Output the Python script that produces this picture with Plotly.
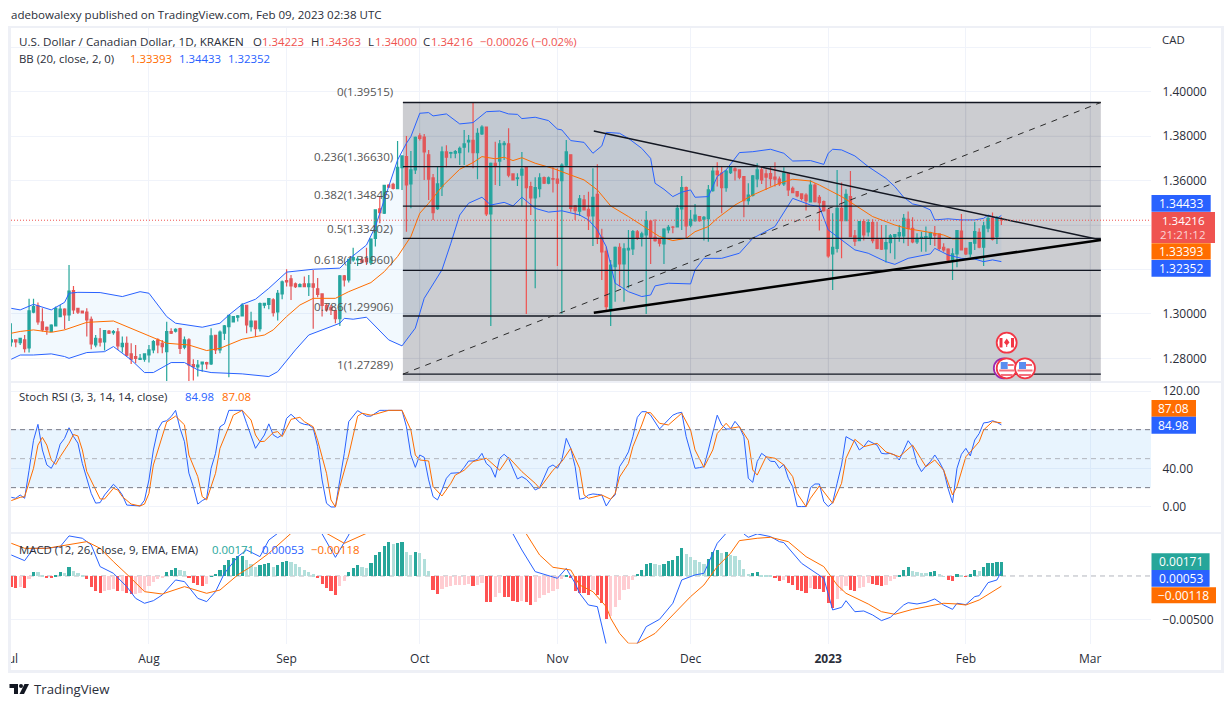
import plotly.graph_objects as go

# daily bars, index 0 = 1 Jul 2022
opens = [1.2874,1.2883,1.2871,1.2883,1.2847,1.3008,1.3036,1.2964,1.2939,1.2921,1.2946,1.2988,1.3022,1.2995,1.3105,1.3025,1.3013,1.3008,1.2976,1.2860,
1.2888,1.2874,1.2923,1.2916,1.2919,1.2853,1.2868,1.2820,1.2808,1.2795,1.2796,1.2815,1.2838,1.2883,1.2868,1.2830,1.2920,1.2922,1.2934,1.2850,
1.2883,1.2772,1.2762,1.2775,1.2781,1.2775,1.2904,1.2838,1.2913,1.2943,1.2964,1.2985,1.2991,1.3039,1.2943,1.2968,1.2934,1.3039,1.3043,1.3063,
1.3009,1.3090,1.3150,1.3158,1.3135,1.3123,1.3135,1.3123,1.3135,1.3113,1.3090,1.3038,1.3030,1.3015,1.2979,1.3171,1.3153,1.3243,1.3243,1.3243,
1.3250,1.3231,1.3340,1.3473,1.3453,1.3580,1.3583,1.3564,1.3658,1.3708,1.3585,1.3648,1.3801,1.3796,1.3716,1.3612,1.3474,1.3573,1.3729,1.3723,
1.3723,1.3726,1.3750,1.3774,1.3781,1.3726,1.3810,1.3841,1.3450,1.3678,1.3688,1.3762,1.3765,1.3630,1.3609,1.3625,1.3663,1.3573,1.3522,1.3564,
1.3613,1.3588,1.3609,1.3607,1.3600,1.3670,1.3716,1.3486,1.3462,1.3513,1.3471,1.3441,1.3538,1.3345,1.3282,1.3018,1.3213,1.3300,1.3225,1.3288,
1.3292,1.3369,1.3347,1.3355,1.3418,1.3345,1.3338,1.3315,1.3378,1.3391,1.3391,1.3472,1.3568,1.3399,1.3420,1.3438,1.3426,1.3429,1.3555,1.3643,
1.3634,1.3568,1.3636,1.3653,1.3648,1.3618,1.3510,1.3533,1.3608,1.3648,1.3630,1.3631,1.3616,1.3607,1.3585,1.3630,1.3565,1.3550,1.3540,1.3535,
1.3504,1.3580,1.3525,1.3505,1.3468,1.3270,1.3295,1.3475,1.3420,1.3528,1.3351,1.3330,1.3415,1.3369,1.3411,1.3336,1.3336,1.3292,1.3321,1.3348,
1.3351,1.3351,1.3426,1.3385,1.3324,1.3342,1.3342,1.3340,1.3360,1.3360,1.3300,1.3292,1.3243,1.3270,1.3373,1.3295,1.3270,1.3318,1.3367,1.3300,
1.3386,1.3430,1.3348,1.34223]
highs = [1.2958,1.2883,1.2890,1.2905,1.3068,1.3068,1.3051,1.3025,1.2943,1.2953,1.3033,1.3040,1.3025,1.3220,1.3126,1.3025,1.3013,1.3025,1.2988,1.2905,
1.2936,1.2928,1.2928,1.2928,1.2936,1.2898,1.2898,1.2868,1.2860,1.2820,1.2823,1.2860,1.2883,1.2890,1.2883,1.2965,1.2935,1.2935,1.2938,1.2898,
1.2890,1.2796,1.2793,1.2785,1.2785,1.2935,1.2905,1.2925,1.2950,1.2995,1.2991,1.2995,1.3048,1.3040,1.3010,1.2968,1.3051,1.3048,1.3072,1.3070,
1.3108,1.3150,1.3201,1.3175,1.3141,1.3138,1.3168,1.3175,1.3198,1.3161,1.3093,1.3048,1.3040,1.3015,1.3175,1.3175,1.3247,1.3298,1.3258,1.3258,
1.3298,1.3340,1.3471,1.3531,1.3581,1.3583,1.3590,1.3778,1.3711,1.3801,1.3733,1.3798,1.3813,1.3810,1.3738,1.3630,1.3666,1.3753,1.3759,1.3730,
1.3738,1.3753,1.3828,1.3805,1.3952,1.3835,1.3849,1.3841,1.3681,1.3775,1.3783,1.3778,1.3835,1.3633,1.3633,1.3729,1.3666,1.3595,1.3615,1.3633,
1.3618,1.3618,1.3660,1.3655,1.3678,1.3783,1.3718,1.3490,1.3535,1.3535,1.3550,1.3655,1.3673,1.3383,1.3303,1.3243,1.3303,1.3318,1.3318,1.3378,
1.3378,1.3378,1.3370,1.3463,1.3423,1.3426,1.3339,1.3385,1.3400,1.3396,1.3490,1.3621,1.3573,1.3468,1.3495,1.3441,1.3441,1.3580,1.3660,1.3683,
1.3666,1.3648,1.3666,1.3660,1.3651,1.3621,1.3588,1.3625,1.3678,1.3666,1.3651,1.3663,1.3683,1.3618,1.3660,1.3630,1.3573,1.3550,1.3543,1.3543,
1.3603,1.3588,1.3535,1.3510,1.3471,1.3453,1.3648,1.3591,1.3561,1.3643,1.3378,1.3418,1.3426,1.3426,1.3426,1.3415,1.3400,1.3400,1.3360,1.3360,
1.3400,1.3450,1.3461,1.3435,1.3363,1.3370,1.3393,1.3370,1.3396,1.3363,1.3318,1.3295,1.3295,1.3378,1.3450,1.3295,1.3321,1.3415,1.3385,1.3415,
1.3445,1.3456,1.3441,1.34363]
lows = [1.2853,1.2850,1.2860,1.2826,1.2826,1.3003,1.2951,1.2921,1.2906,1.2921,1.2943,1.2985,1.2931,1.2968,1.3000,1.3000,1.3003,1.2898,1.2841,1.2850,
1.2853,1.2835,1.2910,1.2906,1.2838,1.2826,1.2808,1.2775,1.2778,1.2793,1.2785,1.2781,1.2823,1.2823,1.2823,1.2696,1.2910,1.2916,1.2820,1.2841,
1.2698,1.2700,1.2718,1.2740,1.2751,1.2770,1.2820,1.2823,1.2883,1.2715,1.2961,1.2966,1.2991,1.2913,1.2921,1.2898,1.2921,1.3025,1.3021,1.2988,
1.2970,1.3066,1.3123,1.3063,1.3117,1.3120,1.3120,1.3081,1.2933,1.3075,1.2988,1.3010,1.2995,1.2958,1.2946,1.3123,1.3141,1.3235,1.3216,1.3228,
1.3220,1.3220,1.3303,1.3408,1.3450,1.3570,1.3560,1.3561,1.3558,1.3370,1.3475,1.3630,1.3780,1.3603,1.3513,1.3423,1.3468,1.3531,1.3660,1.3700,
1.3700,1.3670,1.3670,1.3726,1.3655,1.3606,1.3805,1.3441,1.2946,1.3580,1.3576,1.3693,1.3615,1.3600,1.3576,1.3483,1.3000,1.3445,1.3115,1.3525,
1.3585,1.3583,1.3546,1.3216,1.3000,1.3666,1.3460,1.3423,1.3441,1.3465,1.3378,1.3306,1.3315,1.3153,1.3018,1.2946,1.3055,1.3123,1.3055,1.3115,
1.3265,1.3333,1.3303,1.3000,1.3225,1.3325,1.3303,1.3225,1.3363,1.3363,1.3390,1.3378,1.3340,1.3390,1.3415,1.3415,1.3330,1.3325,1.3550,1.3573,
1.3453,1.3550,1.3630,1.3600,1.3606,1.3435,1.3491,1.3528,1.3570,1.3585,1.3558,1.3573,1.3573,1.3576,1.3576,1.3531,1.3543,1.3525,1.3510,1.3465,
1.3501,1.3501,1.3375,1.3460,1.3253,1.3108,1.3276,1.3250,1.3417,1.3345,1.3306,1.3327,1.3330,1.3348,1.3318,1.3291,1.3288,1.3231,1.3273,1.3246,
1.3325,1.3318,1.3306,1.3318,1.3315,1.3280,1.3280,1.3310,1.3306,1.3285,1.3280,1.3235,1.3153,1.3210,1.3285,1.3265,1.3255,1.3288,1.3295,1.3216,
1.3368,1.3330,1.3315,1.34000]
closes = [1.2883,1.2874,1.2890,1.2844,1.3014,1.3033,1.2964,1.2928,1.2928,1.2950,1.3025,1.3022,1.2995,1.3103,1.3018,1.3008,1.3005,1.2973,1.2865,1.2890,
1.2873,1.2925,1.2913,1.2920,1.2856,1.2868,1.2814,1.2796,1.2800,1.2800,1.2820,1.2838,1.2875,1.2860,1.2853,1.2920,1.2913,1.2931,1.2845,1.2883,
1.2770,1.2763,1.2770,1.2783,1.2775,1.2901,1.2838,1.2918,1.2946,1.2993,1.2988,1.2991,1.3040,1.2951,1.2968,1.2934,1.3046,1.3048,1.3069,1.3006,
1.3093,1.3144,1.3144,1.3126,1.3123,1.3132,1.3123,1.3135,1.3120,1.3088,1.3038,1.3018,1.3018,1.2979,1.3171,1.3153,1.3246,1.3253,1.3247,1.3233,
1.3235,1.3337,1.3468,1.3456,1.3578,1.3570,1.3565,1.3660,1.3711,1.3580,1.3648,1.3795,1.3790,1.3729,1.3606,1.3456,1.3585,1.3729,1.3705,1.3726,
1.3730,1.3745,1.3765,1.3781,1.3726,1.3813,1.3841,1.3450,1.3678,1.3666,1.3765,1.3768,1.3625,1.3603,1.3612,1.3652,1.3568,1.3522,1.3568,1.3612,
1.3588,1.3612,1.3606,1.3588,1.3670,1.3729,1.3475,1.3465,1.3518,1.3468,1.3441,1.3525,1.3345,1.3279,1.3033,1.3220,1.3300,1.3225,1.3293,1.3295,
1.3370,1.3340,1.3360,1.3420,1.3345,1.3330,1.3318,1.3382,1.3390,1.3390,1.3475,1.3568,1.3396,1.3426,1.3445,1.3420,1.3435,1.3558,1.3643,1.3627,
1.3568,1.3643,1.3660,1.3645,1.3615,1.3510,1.3535,1.3621,1.3648,1.3603,1.3616,1.3609,1.3606,1.3585,1.3634,1.3558,1.3546,1.3531,1.3520,1.3510,
1.3580,1.3505,1.3501,1.3465,1.3261,1.3300,1.3475,1.3420,1.3538,1.3348,1.3327,1.3415,1.3355,1.3411,1.3330,1.3295,1.3291,1.3321,1.3351,1.3357,
1.3366,1.3430,1.3385,1.3324,1.3340,1.3345,1.3348,1.3366,1.3354,1.3295,1.3288,1.3243,1.3270,1.3375,1.3288,1.3270,1.3321,1.3370,1.3300,1.3396,
1.3430,1.3336,1.3430,1.34216]
bars = list(range(len(opens)))

# Bollinger bands, vertices
bb_upper_x = [0,2,5,9,12,13,15,20,25,29,31,33,35,37,43,47,49,52,55,58,62,68,74,76,80,82,85,87,89,90,92,94,95,98,101,104,107,110,112,114,115,118,121,123,124,126,129,131,133,134,137,139,142,144,145,147,149,151,153,154,157,159,161,164,167,171,174,176,180,183,184,185,187,190,193,197,199,201,203,205,207,208,211,214,217,219,220,222,223]
bb_upper = [1.3025,1.3018,1.3043,1.3018,1.3052,1.3093,1.3097,1.3096,1.3078,1.3100,1.3093,1.3040,1.2988,1.2958,1.2940,1.2958,1.2995,1.3043,1.3066,1.3115,1.3188,1.3201,1.3206,1.3246,1.3310,1.3393,1.3573,1.3693,1.3768,1.3798,1.3903,1.3906,1.3891,1.3900,1.3855,1.3861,1.3910,1.3913,1.3900,1.3898,1.3879,1.3885,1.3870,1.3832,1.3828,1.3780,1.3772,1.3723,1.3756,1.3817,1.3813,1.3790,1.3745,1.3700,1.3588,1.3561,1.3528,1.3548,1.3558,1.3525,1.3528,1.3618,1.3648,1.3726,1.3730,1.3741,1.3723,1.3688,1.3690,1.3673,1.3723,1.3741,1.3738,1.3711,1.3663,1.3610,1.3573,1.3525,1.3495,1.3486,1.3468,1.3423,1.3428,1.3423,1.3423,1.3430,1.3445,1.3430,1.34433]
bb_mid_x = [0,2,5,9,12,17,23,27,35,40,44,47,52,57,59,62,65,68,73,76,81,84,87,88,90,92,94,97,101,104,106,109,111,113,115,118,122,126,129,132,135,139,143,146,149,152,154,157,159,163,167,170,173,176,180,182,185,187,190,194,199,202,206,210,212,217,223]
bb_mid = [1.2913,1.2921,1.2928,1.2917,1.2928,1.2962,1.2968,1.2935,1.2868,1.2860,1.2835,1.2845,1.2886,1.2905,1.2928,1.2988,1.3040,1.3070,1.3070,1.3100,1.3141,1.3190,1.3258,1.3288,1.3348,1.3453,1.3498,1.3573,1.3651,1.3681,1.3708,1.3698,1.3705,1.3690,1.3703,1.3678,1.3655,1.3625,1.3603,1.3558,1.3486,1.3438,1.3386,1.3348,1.3330,1.3340,1.3370,1.3393,1.3430,1.3490,1.3535,1.3561,1.3588,1.3606,1.3598,1.3580,1.3550,1.3528,1.3490,1.3438,1.3400,1.3383,1.3370,1.3355,1.3338,1.3338,1.33393]
bb_lower_x = [0,2,5,9,12,13,17,21,23,27,30,32,36,39,42,45,52,58,60,64,67,74,75,77,80,85,88,91,93,97,99,101,103,106,108,111,113,115,118,121,124,128,130,132,134,136,139,142,144,145,148,153,154,156,160,164,167,172,176,180,182,184,186,190,193,197,199,202,207,208,211,214,217,219,221,223]
bb_lower = [1.2796,1.2815,1.2815,1.2820,1.2808,1.2800,1.2826,1.2830,1.2853,1.2793,1.2736,1.2736,1.2781,1.2781,1.2748,1.2736,1.2730,1.2718,1.2740,1.2838,1.2905,1.2958,1.2980,1.2976,1.2985,1.2883,1.2856,1.2936,1.3070,1.3198,1.3318,1.3445,1.3498,1.3525,1.3490,1.3502,1.3486,1.3525,1.3475,1.3458,1.3464,1.3445,1.3423,1.3378,1.3303,1.3138,1.3100,1.3078,1.3085,1.3126,1.3138,1.3135,1.3198,1.3250,1.3250,1.3273,1.3340,1.3393,1.3520,1.3490,1.3483,1.3378,1.3348,1.3288,1.3273,1.3235,1.3223,1.3250,1.3270,1.3295,1.3265,1.3250,1.3247,1.3235,1.3243,1.32352]

# Stoch RSI
stoch_k = [10,9,12.4,9,38,69,85.5,59,43.5,40,48.6,65,71,82,73,66,45,30,14,4,4.5,12.4,17.6,23.5,19,12.4,2,1.8,1,1,7,28,59,80,88,89.3,93.5,100,81.4,67.6,
35,21,3,6.6,9,40,55.5,83,86,100,100,100,100,86.6,74.5,60.7,67.6,74.5,86,74.5,71.7,74.5,91.7,95.9,91.7,87.3,85.5,84.9,81.4,62.4,28,3.8,0,0,28,55.5,88.3,93.5,99.7,97,
94,94,97,100,100,100,100,100,100,83,53.8,41,53.8,51.4,28,10.7,7.3,17.6,29.7,34.9,35.5,35.5,41,47.6,47.6,49.3,55.5,45,41,30.7,50.4,54.5,50.4,40,29,31.4,28.6,23.8,17.6,20,
31.4,41,43.5,40,48.6,71,60.7,41.7,8,9,12.4,13.5,13,12.4,1,8,12.4,41.7,48.6,57,72.8,92.8,98.6,98.6,95,88,80.7,85.5,90.7,95,97,98,72.8,55.5,40,40.7,41.7,59,76,95,
84.9,80.7,80.7,88.6,83,72.8,29.7,25.5,47,55.5,52,47.3,47,40,44,29.7,21,0.4,0.4,0.4,20,23.8,23.8,5.5,0.4,4.5,24.5,43.5,72.8,70,67.6,59,62.4,68.6,65.9,64,55.5,54.9,55.5,53.8,
48.6,59,68.6,62.4,45,36.6,42.4,46.9,53.8,47,38,19,4.5,40,54.5,60.7,52.8,69.3,76,87,87.6,89.3,87.6,84.98]
stoch_d_x = [0,2,3,5,6,7,8,9,10,11,13,14,15,16,17,19,20,21,23,24,25,27,29,30,31,32,34,35,37,39,40,42,43,44,46,47,49,50,52,54,55,56,57,59,60,61,63,65,66,68,69,71,72,73,74,76,78,79,81,82,85,88,90,91,92,94,95,97,99,100,102,104,107,110,112,115,118,119,122,124,126,128,129,130,133,135,136,137,139,140,142,143,144,146,148,150,151,153,154,156,158,159,161,162,164,166,167,168,170,172,174,176,177,179,180,182,184,185,187,188,190,192,195,197,200,203,206,208,210,212,213,215,216,218,219,221,223]
stoch_d = [6.6,10,10.7,40,64,72,64,48.6,44,52,66,75,73.5,59,36.6,17.6,8.3,8.3,19.3,17.6,10.7,3,1,3,14,43.5,74.5,88,94,85,53.8,31.4,10.7,7.3,34.9,60.7,83,95,100,90,74.5,67.6,68,77,78,72.8,90.7,92.8,88.3,83,69,34.9,7.3,0,21,53.8,94,97,95,96,100,100,79.7,53.8,48.6,47.6,21,11.4,24.5,33,38,47,50.4,38,51.4,36.6,24.5,19.3,38,47,60.7,40,12.4,9,12.4,8,14,31,45,62.4,84.9,97.6,97.6,86.6,84.9,93.5,97,79.7,59,41,59,76,86.6,81.4,83,69,38.3,33,52,50.4,43.5,31.4,14,0.4,9,21.7,9,3.8,24.5,50.4,70,62.4,65.9,57,52,64,41.7,48.6,38,12.4,21,52,57,67.6,79.7,88.3,87.08]

# MACD
macd_hist = [-.00123,-.00131,-.00123,-.00135,-.00031,.0005,.00046,.00019,-.00008,-.00019,.00015,.00046,.00035,.00108,.00065,.00038,.00019,-.00031,-.00127,-.00173,
-.00192,-.00173,-.00154,-.00146,-.00173,-.00162,-.00192,-.00204,-.002,-.00192,-.00173,-.00115,-.00058,-.00031,-.00012,.0005,.00077,.001,.00069,.00058,
-.00008,-.00077,-.00104,-.00108,-.00085,.00004,.00031,.00077,.00127,.00185,.00212,.00231,.00242,.00185,.00146,.00108,.00135,.00142,.00154,.00115,
.00131,.00162,.00173,.00162,.00146,.00115,.00077,.00046,.00023,-.00012,-.00085,-.00135,-.00173,-.00215,-.00108,-.00054,.00046,.00096,.00127,.00108,
.00096,.00154,.0025,.00288,.00346,.00392,.00373,.00385,.00392,.00288,.0025,.00277,.00269,.002,.00058,-.00154,-.002,-.00146,-.00123,-.00108,
-.00104,-.001,-.00096,-.00092,-.00108,-.00096,-.00077,-.00296,-.003,-.00231,-.00192,-.00238,-.00242,-.00288,-.00296,-.00288,-.003,-.00327,-.003,-.0025,
-.00219,-.00192,-.00173,-.00146,-.00031,.00019,-.00008,-.00162,-.00192,-.00196,-.00212,-.00154,-.00212,-.00308,-.00492,-.00454,-.00354,-.00269,-.00154,-.00146,
-.00038,.00031,.00077,.00146,.0015,.00142,.00135,.00146,.00173,.00185,.00231,.00327,.00258,.00219,.00192,.00165,.00146,.002,.00281,.00308,
.00269,.00281,.0025,.00231,.00192,.00085,.00031,.00038,.0005,.00019,.00015,.00008,-.00012,-.0005,-.00038,-.00077,-.00104,-.00154,-.00165,-.00185,
-.00135,-.00142,-.00146,-.00181,-.00308,-.00365,-.00262,-.00173,-.00108,-.00154,-.00173,-.00135,-.00123,-.00077,-.00092,-.00096,-.00115,-.00096,-.0005,-.00031,
.00019,.00077,.00115,.00058,.00046,.00042,.00038,.00054,.00058,.00031,.00004,-.00038,-.0005,.00023,.00012,-.00004,.00023,.00069,.00058,.00108,
.00154,.00158,.00165,.00171]
macd_x = [0,3,5,8,11,13,16,18,20,23,26,28,30,32,34,37,39,42,44,46,48,51,53,56,58,60,62,66,69,70,73,76,77,82,87,92,102,107,111,113,115,118,120,123,125,127,128,130,132,133,134,135,137,139,141,143,146,149,151,154,156,159,161,163,165,166,168,171,173,174,178,182,183,185,187,188,190,192,194,196,198,201,202,204,206,208,210,212,213,215,217,218,220,222,223]
macd_line = [.00242,.00177,.00319,.00319,.00338,.00462,.00435,.00358,.00108,.00031,-.00123,-.00258,-.00315,-.00285,-.00219,-.00046,-.00065,-.00258,-.00296,-.00181,.00031,.00223,.003,.00223,.00415,.00492,.00646,.00838,.00646,.00485,.00215,.00473,.00608,.01108,.01377,.01415,.01108,.00838,.00646,.00485,.003,.0005,.00019,-.00027,.00088,-.00085,-.002,-.00335,-.00354,-.00585,-.00777,-.01008,-.01085,-.00931,-.00777,-.00585,-.005,-.00315,-.00046,.00012,.00031,.00377,.00485,.00608,.00485,.00446,.00485,.00454,.00396,.00385,.00146,.00012,-.00027,-.00392,-.00362,-.00285,-.00412,-.00404,-.0045,-.00515,-.00477,-.00335,-.00308,-.00323,-.00304,-.00265,-.00335,-.00385,-.00315,-.00331,-.00238,-.00227,-.00077,-.00046,.00053]
signal_x = [0,3,8,13,17,20,23,27,30,34,39,44,47,51,54,58,63,68,71,75,80,87,96,104,113,116,119,122,126,128,131,134,135,137,139,141,145,149,153,156,159,162,164,168,171,175,179,183,186,188,193,196,199,203,207,210,213,215,218,223]
signal_line = [.00377,.00319,.00319,.00358,.00396,.00319,.00165,-.00027,-.00181,-.00208,-.00123,-.002,-.00162,.00012,.00108,.00262,.00492,.00646,.00492,.00377,.00492,.00915,.01146,.00915,.00646,.00485,.00242,.001,.00069,-.00104,-.00181,-.00354,-.00488,-.00662,-.00777,-.00777,-.00662,-.0045,-.00238,-.00104,.00108,.00262,.00408,.00435,.00446,.00396,.00223,.00108,-.00104,-.002,-.00323,-.00412,-.00442,-.00385,-.00346,-.00315,-.00323,-.00335,-.00277,-.00118]

# fib retracement drawn on the chart
fib_levels = [1.39515,1.36630,1.34846,1.33402,1.31960,1.29906,1.27289]
fib_names = ["0(1.39515)","0.236(1.36630)","0.382(1.34846)","0.5(1.33402)","0.618(1.31960)","0.786(1.29906)","1(1.27289)"]
fib_label_y = [91,156,195,228,259,306,364]
fib_start, fib_end = 88.2, 245.4
apex_bar, apex_price = 245.4, 1.33326
upper_start_bar, upper_start_price = 131.2, 1.38231
lower_start_bar, lower_start_price = 131.2, 1.30054
last_price = 1.34216

month_ticks = [0,31,62,92,123,153,184,215,243]
month_labels = ["Jul","Aug","Sep","Oct","Nov","Dec","<b>2023</b>","Feb","Mar"]
price_ticks = [1.28,1.30,1.32,1.34,1.36,1.38,1.40,1.42]
price_labels = ["1.28000","1.30000","","","1.36000","1.38000","1.40000",""]

W, H = 1232, 707
FONT = "Open Sans"
TXT = "#2a2e39"
GRID = "#f0f3fa"
BLUE, ORANGE, RED, TEAL = "#2962ff", "#ff6d00", "#ef5350", "#26a69a"


def fx(px):
    return px / W


def fy(py):
    return 1 - py / H


fig = go.Figure()

# Bollinger fill first, so lines stay on top
fig.add_trace(go.Scatter(x=bb_upper_x + bb_lower_x[::-1], y=bb_upper + bb_lower[::-1], mode="lines", fill="toself",
                         line=dict(width=0), fillcolor="rgba(33,150,243,0.06)", hoverinfo="skip"))
fig.add_trace(go.Candlestick(x=bars, open=opens, high=highs, low=lows, close=closes,
                             increasing=dict(line=dict(color=TEAL, width=1.2), fillcolor=TEAL),
                             decreasing=dict(line=dict(color=RED, width=1.2), fillcolor=RED)))
fig.add_trace(go.Scatter(x=bb_upper_x, y=bb_upper, mode="lines", line=dict(color=BLUE, width=1, shape="linear")))
fig.add_trace(go.Scatter(x=bb_lower_x, y=bb_lower, mode="lines", line=dict(color=BLUE, width=1)))
fig.add_trace(go.Scatter(x=bb_mid_x, y=bb_mid, mode="lines", line=dict(color=ORANGE, width=1)))

fig.add_trace(go.Scatter(x=bars, y=stoch_k, mode="lines", xaxis="x2", yaxis="y2", line=dict(color=BLUE, width=1)))
fig.add_trace(go.Scatter(x=stoch_d_x, y=stoch_d, mode="lines", xaxis="x2", yaxis="y2", line=dict(color=ORANGE, width=1)))

# histogram colours follow the usual rising / falling rule
hist_colors = []
for i, v in enumerate(macd_hist):
    rising = i > 0 and v > macd_hist[i - 1]
    if v >= 0:
        hist_colors.append(TEAL if rising else "#b2dfdb")
    else:
        hist_colors.append("#ffcdd2" if rising else "#ff5252")
fig.add_trace(go.Bar(x=bars, y=macd_hist, xaxis="x3", yaxis="y3", marker=dict(color=hist_colors, line=dict(width=0)), width=0.72))
fig.add_trace(go.Scatter(x=macd_x, y=macd_line, mode="lines", xaxis="x3", yaxis="y3", line=dict(color=BLUE, width=1)))
fig.add_trace(go.Scatter(x=signal_x, y=signal_line, mode="lines", xaxis="x3", yaxis="y3", line=dict(color=ORANGE, width=1)))

x_range = [-0.07, 256.7]
x_common = dict(range=x_range, domain=[fx(11), fx(1151)], tickmode="array", tickvals=month_ticks, showgrid=True,
                gridcolor=GRID, gridwidth=1, zeroline=False, showline=False, ticks="")
y_common = dict(side="right", showgrid=True, gridcolor=GRID, gridwidth=1, zeroline=False, showline=False,
                tickfont=dict(family=FONT, size=12, color=TXT), ticks="outside", ticklen=8, tickcolor="rgba(0,0,0,0)",
                tickmode="array", anchor="free", position=fx(1151))

fig.update_layout(
    width=W, height=H, margin=dict(l=0, r=0, t=0, b=0, autoexpand=False), paper_bgcolor="white", plot_bgcolor="white",
    showlegend=False, bargap=0, font=dict(family=FONT, size=12, color=TXT),
    xaxis=dict(x_common, anchor="y", showticklabels=False, rangeslider=dict(visible=False)),
    xaxis2=dict(x_common, anchor="y2", showticklabels=False, matches="x"),
    xaxis3=dict(x_common, anchor="y3", matches="x", ticktext=month_labels, showticklabels=True,
                tickfont=dict(family=FONT, size=12, color=TXT), ticks="outside", ticklen=4, tickcolor="rgba(0,0,0,0)"),
    yaxis=dict(y_common, domain=[fy(381), fy(27)], range=[1.26980, 1.42912], tickvals=price_ticks, ticktext=price_labels),
    yaxis2=dict(y_common, domain=[fy(532), fy(383)], range=[-25.9, 128.3], tickvals=[0, 40, 80, 120],
                ticktext=["0.00", "40.00", "", "120.00"]),
    yaxis3=dict(y_common, domain=[fy(643.5), fy(533.5)], range=[-0.00779, 0.0049], tickvals=[-0.005],
                ticktext=["\u22120.00500"]),
)


def paper_rect(x0, y0, x1, y1, color, layer="above"):
    fig.add_shape(type="rect", xref="paper", yref="paper", x0=fx(x0), x1=fx(x1), y0=fy(y0), y1=fy(y1),
                  fillcolor=color, line=dict(width=0), layer=layer)


def note(px, py, text, color=TXT, size=11.4, anchor="left"):
    fig.add_annotation(xref="paper", yref="paper", x=fx(px), y=fy(py), text=text, showarrow=False, xanchor=anchor,
                       yanchor="middle", font=dict(family=FONT, size=size, color=color), borderpad=0)


# fib box and its lines
fig.add_shape(type="rect", x0=fib_start, x1=fib_end, y0=1.26980, y1=fib_levels[0], xref="x", yref="y",
              fillcolor="rgba(120,123,134,0.38)", line=dict(width=0), layer="between")
# grid shows slightly darker through the box
for tick in month_ticks:
    if fib_start < tick < fib_end:
        fig.add_shape(type="line", x0=tick, x1=tick, y0=1.26980, y1=fib_levels[0], xref="x", yref="y",
                      line=dict(color="rgba(0,0,0,0.05)", width=1), layer="between")
for lev in price_ticks:
    if lev < fib_levels[0]:
        fig.add_shape(type="line", x0=fib_start, x1=fib_end, y0=lev, y1=lev, xref="x", yref="y",
                      line=dict(color="rgba(0,0,0,0.03)", width=1), layer="between")
for lev in fib_levels:
    fig.add_shape(type="line", x0=fib_start, x1=fib_end, y0=lev, y1=lev, xref="x", yref="y",
                  line=dict(color="#131722", width=1.3), layer="above")
fig.add_shape(type="line", x0=fib_start, x1=fib_end, y0=fib_levels[-1], y1=fib_levels[0], xref="x", yref="y",
              line=dict(color="#2a2a2a", width=1, dash="6px,6px"), layer="above")
fig.add_shape(type="line", x0=upper_start_bar, x1=apex_bar, y0=upper_start_price, y1=apex_price, xref="x", yref="y",
              line=dict(color="#131722", width=1.5), layer="above")
fig.add_shape(type="line", x0=lower_start_bar, x1=apex_bar, y0=lower_start_price, y1=apex_price, xref="x", yref="y",
              line=dict(color="#000000", width=2.5), layer="above")
fig.add_shape(type="line", x0=x_range[0], x1=x_range[1], y0=last_price, y1=last_price, xref="x", yref="y",
              line=dict(color=RED, width=1, dash="1px,2px"), layer="above")
for name, py in zip(fib_names, fib_label_y):
    note(394, py, name, color="#555555", size=11.6, anchor="right")

# stoch band and dashed levels
fig.add_shape(type="rect", x0=x_range[0], x1=x_range[1], y0=20, y1=80, xref="x2", yref="y2",
              fillcolor="rgba(33,150,243,0.1)", line=dict(width=0), layer="between")
for lev, col in [(80, "#787b86"), (50, "#b0b3bc"), (20, "#787b86")]:
    fig.add_shape(type="line", x0=x_range[0], x1=x_range[1], y0=lev, y1=lev, xref="x2", yref="y2",
                  line=dict(color=col, width=1, dash="5px,4px"), layer="above")
# macd zero
fig.add_shape(type="line", x0=x_range[0], x1=x_range[1], y0=0, y1=0, xref="x3", yref="y3",
              line=dict(color="#b2b5be", width=1, dash="5px,4px"), layer="between")

# frame
FRAME = "#eef0f6"
paper_rect(0, 0, 8, 690, "white")
paper_rect(8, 26, 11, 673, FRAME)
paper_rect(8, 26, 1224, 28, FRAME)
paper_rect(1221, 26, 1224, 673, FRAME)
paper_rect(8, 670, 1224, 673, FRAME)
paper_rect(11, 381, 1221, 383, FRAME)
paper_rect(11, 532, 1221, 534, FRAME)

# price tags on the right
tags = [
    (195, 211.7, 1210.7, BLUE, "1.34433"), (243.3, 259.5, 1210.7, ORANGE, "1.33393"), (260, 276.7, 1210.7, BLUE, "1.32352"),
    (400, 416.7, 1196, ORANGE, "87.08"), (416.7, 433.7, 1196, BLUE, "84.98"),
    (553.3, 570, 1209.6, TEAL, "0.00171"), (570, 586.8, 1209.6, BLUE, "0.00053"), (587.3, 603.3, 1216, ORANGE, "\u22120.00118"),
]
for y0, y1, x1, col, txt in tags:
    paper_rect(1151.5, y0, x1, y1, col)
    note((1151.5 + x1) / 2, (y0 + y1) / 2, txt, color="white", size=12, anchor="center")
paper_rect(1151.5, 212, 1215, 243, RED)
note(1183, 220.7, "1.34216", color="white", size=11.5, anchor="center")
note(1183, 234.5, "21:21:12", color="#fbd5d4", size=11.5, anchor="center")
note(1173, 40, "CAD", size=11.4, anchor="center")

# header text
note(10, 15, "adebowalexy published on TradingView.com, Feb 09, 2023 02:38 UTC", size=11.55)
note(18, 41, "U.S. Dollar / Canadian Dollar, 1D, KRAKEN", size=11.65)
for px, lab in [(252, "O"), (309.6, "H"), (367, "L"), (422, "C")]:
    note(px, 41, lab)
for px, val in [(261, "1.34223"), (318, "1.34363"), (373.7, "1.34000"), (430, "1.34216"), (478.5, "\u22120.00026 (\u22120.02%)")]:
    note(px, 41, val, color=RED)
note(18, 58.5, "BB (20, close, 2, 0)")
note(128.5, 58.5, "1.33393", color=ORANGE)
note(178, 58.5, "1.34433", color=BLUE)
note(227, 58.5, "1.32352", color=BLUE)
note(18, 397, "Stoch RSI (3, 3, 14, 14, close)")
note(184, 397, "84.98", color=BLUE)
note(220.6, 397, "87.08", color=ORANGE)
note(18, 549, "MACD (12, 26, close, 9, EMA, EMA)")
note(210.8, 549, "0.00171", color=TEAL)
note(261, 549, "0.00053", color=BLUE)
note(310, 549, "\u22120.00118", color=ORANGE)


def circle(cx, cy, r, fill, edge, width=1.8):
    fig.add_shape(type="circle", xref="paper", yref="paper", x0=fx(cx - r), x1=fx(cx + r), y0=fy(cy + r), y1=fy(cy - r),
                  fillcolor=fill, line=dict(color=edge, width=width), layer="above")


def poly(points, color):
    path = "M " + " L ".join(f"{fx(a):.5f},{fy(b):.5f}" for a, b in points) + " Z"
    fig.add_shape(type="path", xref="paper", yref="paper", path=path, fillcolor=color, line=dict(width=0), layer="above")


# event badges
FLAG_RED = "#f23645"
circle(1006.7, 342.7, 10, "white", FLAG_RED)
paper_rect(999.5, 338, 1002.5, 347.5, FLAG_RED)
paper_rect(1011, 338, 1014, 347.5, FLAG_RED)
poly([(1006.7, 338.5), (1009.5, 342.5), (1007.2, 345), (1007.2, 347), (1006.2, 347), (1006.2, 345), (1004, 342.5)], FLAG_RED)
circle(1003.8, 368.3, 10, "white", "#9c27b0")
for cx in (1006.7, 1025):
    circle(cx, 368.3, 10, "white", FLAG_RED)
    paper_rect(cx - 6, 362, cx + 1, 369, "#5b8def")
    paper_rect(cx - 7.5, 369.5, cx + 7.5, 371.5, "#f4707d")
    paper_rect(cx - 6, 374, cx + 6, 376, "#f4707d")
    paper_rect(cx + 1, 364, cx + 7, 366, "#f4707d")

# TradingView mark and name
poly([(9.5, 684), (18, 684), (18, 694), (14, 694), (14, 688), (9.5, 688)], "#131722")
circle(21, 686, 2, "#131722", "#131722", width=0)
poly([(24.5, 684), (29, 684), (24, 694), (19.5, 694)], "#131722")
note(33, 689, "TradingView", color="#2a2e39", size=13.2)

# default page has a body margin, drop it so the figure sits at the window corner
fig.write_html("out.html", config={"displayModeBar": False}, post_script="document.body.style.margin='0';")
